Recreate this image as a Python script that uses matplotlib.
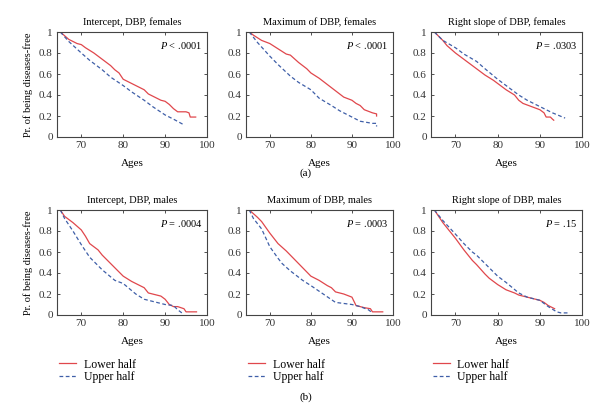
import matplotlib
matplotlib.use("Agg")
import matplotlib.pyplot as plt
from matplotlib.ticker import FuncFormatter

plt.rcParams.update({
    "font.family": "serif",
    "font.serif": ["Liberation Serif", "DejaVu Serif"],
    "mathtext.fontset": "custom",
    "mathtext.it": "Liberation Serif:italic",
    "font.size": 7.5,
})

RED = "#e0474c"
BLUE = "#3f5fa8"

titles = [
    "Intercept, DBP, females", "Maximum of DBP, females", "Right slope of DBP, females",
    "Intercept, DBP, males", "Maximum of DBP, males", "Right slope of DBP, males",
]
pvals = ["< .0001", "< .0001", "= .0303", "= .0004", "= .0003", "= .15"]

# lower half (red) curves: ages, survival
low_age = [
    [65, 67, 69, 70, 71, 73, 75, 77, 78, 79, 80, 82, 84, 85, 86, 88, 89, 90, 91, 92, 93, 95, 95.7, 96, 97.3],
    [65, 66, 68, 70, 72, 74, 75, 77, 79, 80, 82, 84, 85, 87, 88, 90, 91, 92, 93, 95, 96, 96],
    [65, 67, 68, 70, 72, 74, 75, 77, 79, 80, 82, 84, 85, 86, 88, 90, 91, 91.5, 92.5, 93, 93.3],
    [65, 66, 68, 70, 71, 72, 74, 75, 77, 78, 80, 82, 83, 85, 86, 87, 89, 90, 91, 92, 93, 94.5, 95, 97.5],
    [65, 67, 68, 70, 72, 74, 75, 77, 78, 80, 82, 84, 85, 86, 88, 90, 91, 92, 93, 94.5, 95, 97.5],
    [65, 67, 69, 70, 72, 74, 75, 77, 78, 80, 82, 84, 85, 87, 89, 90, 91, 92, 93.5],
]
low_surv = [
    [1.0, 0.93, 0.89, 0.88, 0.85, 0.80, 0.74, 0.68, 0.64, 0.61, 0.55, 0.51, 0.47, 0.45, 0.41, 0.37, 0.35, 0.34, 0.31, 0.27, 0.24, 0.24, 0.23, 0.19, 0.19],
    [1.0, 0.97, 0.92, 0.89, 0.84, 0.79, 0.78, 0.71, 0.65, 0.61, 0.56, 0.50, 0.47, 0.41, 0.38, 0.35, 0.32, 0.30, 0.26, 0.23, 0.22, 0.20],
    [1.0, 0.92, 0.87, 0.80, 0.74, 0.68, 0.65, 0.59, 0.54, 0.51, 0.45, 0.40, 0.35, 0.32, 0.29, 0.26, 0.23, 0.19, 0.19, 0.17, 0.16],
    [1.0, 0.94, 0.88, 0.81, 0.75, 0.68, 0.62, 0.57, 0.49, 0.45, 0.37, 0.32, 0.30, 0.26, 0.21, 0.20, 0.18, 0.15, 0.10, 0.08, 0.08, 0.06, 0.03, 0.03],
    [1.0, 0.93, 0.89, 0.78, 0.68, 0.61, 0.57, 0.49, 0.45, 0.37, 0.33, 0.28, 0.26, 0.22, 0.20, 0.17, 0.09, 0.08, 0.07, 0.06, 0.03, 0.03],
    [1.0, 0.88, 0.78, 0.73, 0.62, 0.52, 0.48, 0.39, 0.35, 0.29, 0.24, 0.21, 0.19, 0.17, 0.15, 0.14, 0.12, 0.09, 0.06],
]

# upper half (blue dashed) curves
up_age = [
    [65, 67, 70, 72, 75, 77, 80, 82, 85, 87, 90, 92, 94.3],
    [65, 67, 70, 72, 75, 77, 80, 82, 85, 87, 90, 92, 95, 96, 96],
    [65, 67, 70, 72, 75, 77, 80, 82, 85, 87, 90, 93, 96],
    [65, 66, 68, 70, 72, 73, 75, 78, 80, 83, 85, 87, 90, 92, 93, 94],
    [65, 66, 68, 70, 72, 73, 75, 78, 80, 83, 86, 90, 92, 94, 95],
    [65, 67, 70, 72, 74, 75, 78, 80, 82, 85, 87, 90, 92, 94, 95, 97],
]
up_surv = [
    [1.0, 0.91, 0.80, 0.73, 0.64, 0.57, 0.49, 0.43, 0.35, 0.29, 0.21, 0.17, 0.12],
    [1.0, 0.90, 0.77, 0.69, 0.58, 0.52, 0.45, 0.37, 0.30, 0.25, 0.19, 0.15, 0.13, 0.13, 0.10],
    [1.0, 0.92, 0.85, 0.79, 0.72, 0.65, 0.55, 0.49, 0.40, 0.35, 0.29, 0.23, 0.18],
    [1.0, 0.92, 0.80, 0.67, 0.55, 0.51, 0.43, 0.33, 0.30, 0.20, 0.15, 0.13, 0.10, 0.09, 0.05, 0.02],
    [1.0, 0.92, 0.82, 0.65, 0.54, 0.49, 0.42, 0.33, 0.28, 0.20, 0.12, 0.10, 0.08, 0.05, 0.02],
    [1.0, 0.90, 0.77, 0.68, 0.60, 0.57, 0.45, 0.37, 0.31, 0.21, 0.17, 0.14, 0.08, 0.03, 0.02, 0.02],
]

W, H = 611, 409
lefts = [57, 246, 431]
widths = [150, 147, 151]
tops = [32, 210]
ax_h = 105

fig = plt.figure(figsize=(W / 100, H / 100), dpi=100)
fmt = FuncFormatter(lambda v, _: "0" if v == 0 else ("1" if v == 1 else f"{v:.1f}"))

for i in range(6):
    r, c = divmod(i, 3)
    ax = fig.add_axes([lefts[c] / W, 1 - (tops[r] + ax_h) / H, widths[c] / W, ax_h / H])
    ax.plot(low_age[i], low_surv[i], color=RED, lw=0.9, label="Lower half")
    ax.plot(up_age[i], up_surv[i], color=BLUE, lw=0.9, ls=(0, (3, 2)), label="Upper half")
    ax.set_xlim(64.2, 100)
    ax.set_ylim(0, 1)
    ax.set_xticks([70, 80, 90, 100])
    ax.set_yticks([0, 0.2, 0.4, 0.6, 0.8, 1])
    ax.yaxis.set_major_formatter(fmt)
    ax.tick_params(direction="in", top=True, right=True, length=2.5, width=0.6, pad=3,
                   colors="#333333", labelsize=8)
    for s in ax.spines.values():
        s.set_linewidth(0.8)
        s.set_color("#444444")
    ax.set_title(titles[i], fontsize=7.5, pad=5)
    ax.set_xlabel("Ages", labelpad=6, fontsize=8)
    if c == 0:
        ax.set_ylabel("Pr. of being diseases-free", labelpad=4)
    ax.text(0.97, 0.92, f"$P$ {pvals[i]}", transform=ax.transAxes, ha="right", va="top")
    if r == 1:
        ax.legend(loc="upper left", bbox_to_anchor=(-0.02, -0.37), frameon=False,
                  handlelength=1.5, handletextpad=0.6, labelspacing=0.05, borderaxespad=0,
                  fontsize=8.5)

fig.text(0.5, 1 - 173 / H, "(a)", ha="center", va="center", fontsize=8)
fig.text(0.5, 1 - 397 / H, "(b)", ha="center", va="center", fontsize=8)

fig.savefig("out.png", dpi=100, facecolor="white")
